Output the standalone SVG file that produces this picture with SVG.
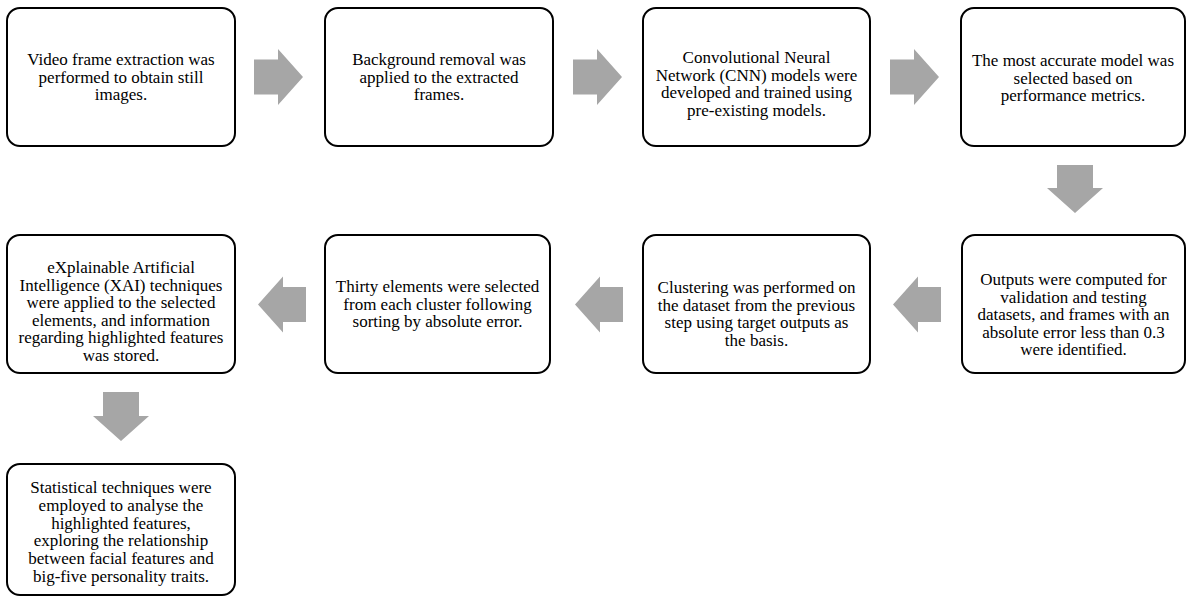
<svg xmlns="http://www.w3.org/2000/svg" width="1187" height="597" viewBox="0 0 1187 597">
<style>
.box{fill:#fff;stroke:#000;stroke-width:2}
.arr{fill:#a6a6a6;stroke:none}
</style>
<rect width="1187" height="597" fill="#fff"/>
<g id="connectors">
<polygon class="arr" points="254,59.5 278,59.5 278,49 303,77 278,105 278,94.5 254,94.5"/>
<polygon class="arr" points="573,59.5 597,59.5 597,49 622,77 597,105 597,94.5 573,94.5"/>
<polygon class="arr" points="890,59.5 914,59.5 914,49 939,77 914,105 914,94.5 890,94.5"/>
<polygon class="arr" points="1057,165 1093,165 1093,188 1103,188 1075,213 1047,188 1057,188"/>
<polygon class="arr" points="893,304.5 918,276.5 918,287 941,287 941,322 918,322 918,332.5"/>
<polygon class="arr" points="575,304.5 600,276.5 600,287 623,287 623,322 600,322 600,332.5"/>
<polygon class="arr" points="258,304.5 283,276.5 283,287 306,287 306,322 283,322 283,332.5"/>
<polygon class="arr" points="103,392 139,392 139,416 149,416 121,441 93,416 103,416"/>
</g>
<g id="n1">
<rect class="box" x="7" y="8" width="228" height="138" rx="13"/>
<text x="121" y="65" font-family="Liberation Serif" font-size="17" text-anchor="middle">Video frame extraction was</text>
<text x="121" y="82.5" font-family="Liberation Serif" font-size="17" text-anchor="middle">performed to obtain still</text>
<text x="121" y="100" font-family="Liberation Serif" font-size="17" text-anchor="middle">images.</text>
</g>
<g id="n2">
<rect class="box" x="325" y="8" width="228" height="138" rx="13"/>
<text x="439" y="65" font-family="Liberation Serif" font-size="17" text-anchor="middle">Background removal was</text>
<text x="439" y="82.5" font-family="Liberation Serif" font-size="17" text-anchor="middle">applied to the extracted</text>
<text x="439" y="100" font-family="Liberation Serif" font-size="17" text-anchor="middle">frames.</text>
</g>
<g id="n3">
<rect class="box" x="643" y="8" width="227" height="138" rx="13"/>
<text x="756.5" y="63" font-family="Liberation Serif" font-size="17" text-anchor="middle">Convolutional Neural</text>
<text x="756.5" y="80.5" font-family="Liberation Serif" font-size="17" text-anchor="middle">Network (CNN) models were</text>
<text x="756.5" y="98" font-family="Liberation Serif" font-size="17" text-anchor="middle">developed and trained using</text>
<text x="756.5" y="115.5" font-family="Liberation Serif" font-size="17" text-anchor="middle">pre-existing models.</text>
</g>
<g id="n4">
<rect class="box" x="961" y="8" width="224" height="138" rx="13"/>
<text x="1073" y="66" font-family="Liberation Serif" font-size="17" text-anchor="middle">The most accurate model was</text>
<text x="1073" y="83.5" font-family="Liberation Serif" font-size="17" text-anchor="middle">selected based on</text>
<text x="1073" y="101" font-family="Liberation Serif" font-size="17" text-anchor="middle">performance metrics.</text>
</g>
<g id="n5">
<rect class="box" x="962" y="235" width="223" height="138" rx="13"/>
<text x="1073.5" y="285" font-family="Liberation Serif" font-size="17" text-anchor="middle">Outputs were computed for</text>
<text x="1073.5" y="302.5" font-family="Liberation Serif" font-size="17" text-anchor="middle">validation and testing</text>
<text x="1073.5" y="320" font-family="Liberation Serif" font-size="17" text-anchor="middle">datasets, and frames with an</text>
<text x="1073.5" y="337.5" font-family="Liberation Serif" font-size="17" text-anchor="middle">absolute error less than 0.3</text>
<text x="1073.5" y="355" font-family="Liberation Serif" font-size="17" text-anchor="middle">were identified.</text>
</g>
<g id="n6">
<rect class="box" x="643" y="235" width="227" height="138" rx="13"/>
<text x="756.5" y="293" font-family="Liberation Serif" font-size="17" text-anchor="middle">Clustering was performed on</text>
<text x="756.5" y="310.5" font-family="Liberation Serif" font-size="17" text-anchor="middle">the dataset from the previous</text>
<text x="756.5" y="328" font-family="Liberation Serif" font-size="17" text-anchor="middle">step using target outputs as</text>
<text x="756.5" y="345.5" font-family="Liberation Serif" font-size="17" text-anchor="middle">the basis.</text>
</g>
<g id="n7">
<rect class="box" x="325" y="235" width="225" height="138" rx="13"/>
<text x="437.5" y="292" font-family="Liberation Serif" font-size="17" text-anchor="middle">Thirty elements were selected</text>
<text x="437.5" y="309.5" font-family="Liberation Serif" font-size="17" text-anchor="middle">from each cluster following</text>
<text x="437.5" y="327" font-family="Liberation Serif" font-size="17" text-anchor="middle">sorting by absolute error.</text>
</g>
<g id="n8">
<rect class="box" x="7" y="235" width="228" height="138" rx="13"/>
<text x="121" y="273" font-family="Liberation Serif" font-size="17" text-anchor="middle">eXplainable Artificial</text>
<text x="121" y="290.6" font-family="Liberation Serif" font-size="17" text-anchor="middle">Intelligence (XAI) techniques</text>
<text x="121" y="308.2" font-family="Liberation Serif" font-size="17" text-anchor="middle">were applied to the selected</text>
<text x="121" y="325.8" font-family="Liberation Serif" font-size="17" text-anchor="middle">elements, and information</text>
<text x="121" y="343.4" font-family="Liberation Serif" font-size="17" text-anchor="middle">regarding highlighted features</text>
<text x="121" y="361" font-family="Liberation Serif" font-size="17" text-anchor="middle">was stored.</text>
</g>
<g id="n9">
<rect class="box" x="7" y="464" width="228" height="131" rx="13"/>
<text x="121" y="493" font-family="Liberation Serif" font-size="17" text-anchor="middle">Statistical techniques were</text>
<text x="121" y="510.8" font-family="Liberation Serif" font-size="17" text-anchor="middle">employed to analyse the</text>
<text x="121" y="528.6" font-family="Liberation Serif" font-size="17" text-anchor="middle">highlighted features,</text>
<text x="121" y="546.4" font-family="Liberation Serif" font-size="17" text-anchor="middle">exploring the relationship</text>
<text x="121" y="564.2" font-family="Liberation Serif" font-size="17" text-anchor="middle">between facial features and</text>
<text x="121" y="582" font-family="Liberation Serif" font-size="17" text-anchor="middle">big-five personality traits.</text>
</g>
</svg>
